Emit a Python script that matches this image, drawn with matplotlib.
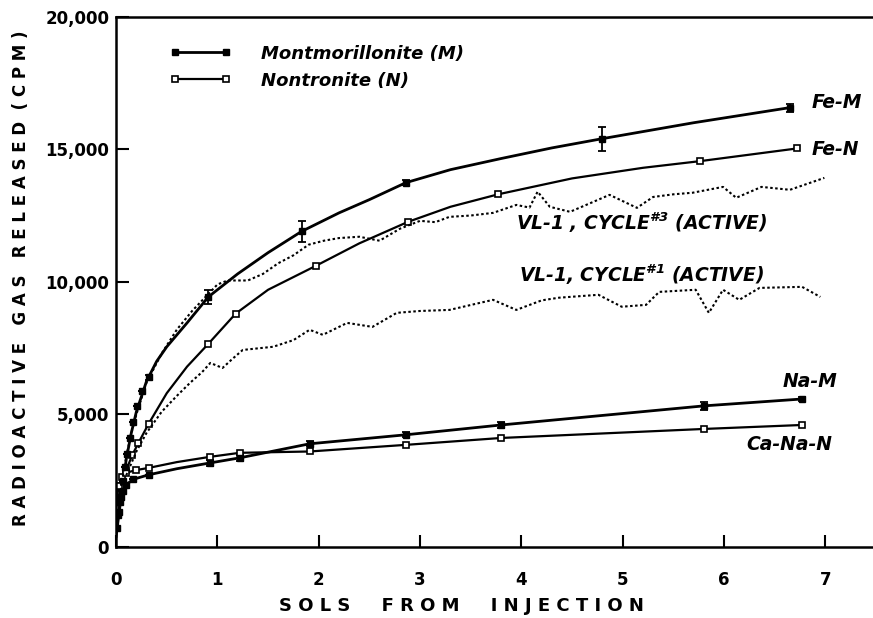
import matplotlib
matplotlib.use("Agg")
import matplotlib.pyplot as plt
from matplotlib.lines import Line2D

plt.rcParams['font.family'] = ['DejaVu Sans']
plt.rcParams['mathtext.fontset'] = 'custom'
plt.rcParams['mathtext.rm'] = 'DejaVu Sans:bold:italic'
plt.rcParams['mathtext.bf'] = 'DejaVu Sans:bold:italic'

# traced curves (sols, cpm)
fe_m_sols = [0.0, 0.01, 0.05, 0.1, 0.15, 0.2, 0.3, 0.4, 0.5, 0.7, 0.91, 1.2, 1.5, 1.83, 2.2, 2.5, 2.86, 3.3, 3.8, 4.3, 4.8, 5.7, 6.65]
fe_m_vals = [400, 700, 1900, 3300, 4300, 5100, 6250, 7000, 7550, 8450, 9430, 10300, 11100, 11900, 12600, 13100, 13740, 14230, 14650, 15050, 15400, 16000, 16570]
fe_n_sols = [0.0, 0.05, 0.1, 0.16, 0.22, 0.32, 0.5, 0.7, 0.91, 1.18, 1.5, 1.97, 2.4, 2.88, 3.3, 3.77, 4.5, 5.2, 5.76, 6.72]
fe_n_vals = [1500, 2300, 2900, 3470, 3920, 4640, 5800, 6800, 7660, 8800, 9700, 10600, 11450, 12260, 12830, 13300, 13900, 14300, 14550, 15030]
na_m_sols = [0.0, 0.02, 0.04, 0.07, 0.1, 0.17, 0.32, 0.6, 0.93, 1.22, 1.91, 2.86, 3.8, 5.8, 6.77]
na_m_vals = [600, 1200, 1700, 2100, 2350, 2550, 2720, 2950, 3170, 3360, 3890, 4230, 4600, 5320, 5580]
cana_n_sols = [0.0, 0.03, 0.06, 0.1, 0.2, 0.32, 0.6, 0.93, 1.22, 1.91, 2.86, 3.8, 5.8, 6.77]
cana_n_vals = [1800, 2300, 2650, 2800, 2900, 2980, 3200, 3400, 3550, 3600, 3850, 4110, 4450, 4600]

# measured points
fe_m_pts_sols = [0.01, 0.03, 0.05, 0.07, 0.09, 0.11, 0.14, 0.17, 0.21, 0.26, 0.32, 0.91, 1.83, 2.86, 4.8, 6.65]
fe_m_pts_vals = [700, 1300, 1900, 2500, 3000, 3500, 4100, 4700, 5300, 5900, 6400, 9430, 11900, 13740, 15400, 16570]
fe_m_err = [0, 0, 0, 0, 0, 0, 0, 0, 0, 0, 100, 250, 400, 100, 450, 150]
fe_n_pts_sols = [0.05, 0.1, 0.16, 0.22, 0.32, 0.91, 1.18, 1.97, 2.88, 3.77, 5.76, 6.72]
fe_n_pts_vals = [2300, 2900, 3470, 3920, 4640, 7660, 8800, 10600, 12260, 13300, 14550, 15030]
na_m_pts_sols = [0.02, 0.04, 0.07, 0.1, 0.17, 0.32, 0.93, 1.22, 1.91, 2.86, 3.8, 5.8, 6.77]
na_m_pts_vals = [1200, 1700, 2100, 2350, 2550, 2720, 3170, 3360, 3890, 4230, 4600, 5320, 5580]
na_m_err = [0, 0, 0, 0, 0, 0, 100, 100, 100, 100, 120, 150, 80]
cana_n_pts_sols = [0.03, 0.06, 0.1, 0.2, 0.32, 0.93, 1.22, 1.91, 2.86, 3.8, 5.8, 6.77]
cana_n_pts_vals = [2300, 2650, 2800, 2900, 2980, 3400, 3550, 3600, 3850, 4110, 4450, 4600]

# Viking lander 1 results (dotted)
vl1_c3_sols = [0.05, 0.1, 0.15, 0.2, 0.3, 0.45, 0.6, 0.75, 0.9, 1.0, 1.1, 1.3, 1.45, 1.6, 1.75, 1.9, 2.05, 2.2, 2.4, 2.6, 2.8, 3.0, 3.15, 3.29, 3.5, 3.72, 3.95, 4.08, 4.16, 4.28, 4.48, 4.7, 4.87, 5.14, 5.3, 5.5, 5.69, 5.99, 6.12, 6.37, 6.65, 6.99]
vl1_c3_vals = [2300, 3400, 4300, 5000, 6200, 7300, 8200, 8900, 9500, 9900, 10050, 10050, 10300, 10700, 11000, 11400, 11550, 11650, 11700, 11550, 12000, 12300, 12250, 12450, 12500, 12600, 12900, 12800, 13400, 12830, 12640, 13000, 13280, 12790, 13200, 13300, 13360, 13580, 13170, 13580, 13470, 13920]
vl1_c1_sols = [0.1, 0.2, 0.3, 0.45, 0.6, 0.73, 0.85, 0.93, 1.05, 1.15, 1.25, 1.55, 1.75, 1.91, 2.04, 2.28, 2.53, 2.77, 3.0, 3.29, 3.72, 3.95, 4.2, 4.37, 4.76, 4.99, 5.23, 5.36, 5.72, 5.85, 5.99, 6.15, 6.35, 6.77, 6.95]
vl1_c1_vals = [2700, 3600, 4300, 5100, 5700, 6190, 6600, 6940, 6750, 7100, 7430, 7550, 7800, 8190, 8000, 8450, 8300, 8830, 8900, 8940, 9320, 8940, 9300, 9400, 9510, 9060, 9130, 9620, 9700, 8830, 9700, 9320, 9770, 9810, 9430]

fig = plt.figure(figsize=(8.73, 6.18), dpi=100)
ax = fig.add_axes([0.133, 0.115, 0.867, 0.858])

lab_font = dict(fontsize=13.5, fontweight='bold', fontstyle='italic')

# montmorillonite: filled markers, thicker lines
ax.plot(fe_m_sols, fe_m_vals, color='black', lw=2.0)
ax.errorbar(fe_m_pts_sols, fe_m_pts_vals, yerr=fe_m_err, fmt='s', ms=4.5, color='black',
            mfc='black', capsize=3, elinewidth=1.3, capthick=1.3)
ax.plot(na_m_sols, na_m_vals, color='black', lw=2.0)
ax.errorbar(na_m_pts_sols, na_m_pts_vals, yerr=na_m_err, fmt='s', ms=4.5, color='black',
            mfc='black', capsize=3, elinewidth=1.3, capthick=1.3)

# nontronite: open squares
ax.plot(fe_n_sols, fe_n_vals, color='black', lw=1.6)
ax.plot(fe_n_pts_sols, fe_n_pts_vals, 's', ms=4.5, mfc='white', mec='black', mew=1.2)
ax.plot(cana_n_sols, cana_n_vals, color='black', lw=1.6)
ax.plot(cana_n_pts_sols, cana_n_pts_vals, 's', ms=4.5, mfc='white', mec='black', mew=1.2)

ax.plot(vl1_c3_sols, vl1_c3_vals, color='black', lw=1.5, ls=(0, (1.2, 1.2)))
ax.plot(vl1_c1_sols, vl1_c1_vals, color='black', lw=1.5, ls=(0, (1.2, 1.2)))

ax.text(6.86, 16750, 'Fe-M', va='center', ha='left', **lab_font)
ax.text(6.86, 14980, 'Fe-N', va='center', ha='left', **lab_font)
ax.text(6.58, 6230, 'Na-M', va='center', ha='left', **lab_font)
ax.text(6.22, 3850, 'Ca-Na-N', va='center', ha='left', **lab_font)
ax.text(3.95, 12230, r'VL-1 , CYCLE$^{\#3}$ (ACTIVE)', va='center', ha='left', **lab_font)
ax.text(3.98, 10260, r'VL-1, CYCLE$^{\#1}$ (ACTIVE)', va='center', ha='left', **lab_font)

handles = [
    Line2D([], [], color='black', lw=2.0, marker='s', ms=4.5, mfc='black'),
    Line2D([], [], color='black', lw=1.6, marker='s', ms=4.5, mfc='white', mew=1.2),
]
ax.legend(handles, ['Montmorillonite (M)', 'Nontronite (N)'], loc='upper left',
          bbox_to_anchor=(0.0713, 0.947), frameon=False, numpoints=2, handlelength=3.4,
          handletextpad=1.65, labelspacing=0.5, borderaxespad=0, borderpad=0,
          prop=dict(size=13, weight='bold', style='italic'))

ax.set_xlim(0, 7.47)
ax.set_ylim(0, 20000)
ax.set_xticks(range(8))
ax.set_yticks([0, 5000, 10000, 15000, 20000])
ax.set_yticklabels(['0', '5,000', '10,000', '15,000', '20,000'])
ax.tick_params(direction='in', length=9, width=1.5, labelsize=12, pad=5)
ax.tick_params(axis='x', pad=17)
for lbl in ax.get_xticklabels() + ax.get_yticklabels():
    lbl.set_fontweight('bold')
ax.spines['right'].set_visible(False)
for s in ['left', 'bottom', 'top']:
    ax.spines[s].set_linewidth(1.8)

fig.text(461 / 873, 1 - 606 / 618, 'S O L S     F R O M     I N J E C T I O N',
         fontsize=13, fontweight='bold', ha='center', va='center')
fig.text(21 / 873, 1 - 278 / 618, 'R A D I O A C T I V E   G A S   R E L E A S E D  ( C P M )',
         fontsize=12, fontweight='bold', ha='center', va='center', rotation=90)

fig.savefig('out.png', dpi=100)
